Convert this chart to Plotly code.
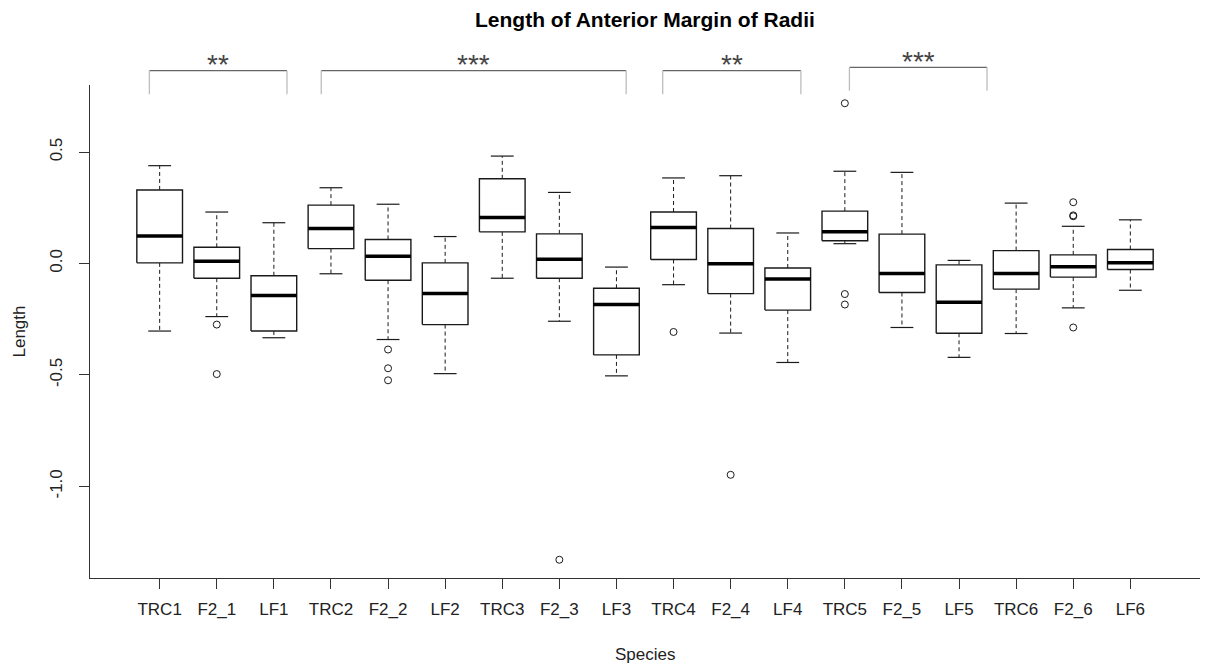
import plotly.graph_objects as go

# ---------------- data ----------------
species = ["TRC1", "F2_1", "LF1", "TRC2", "F2_2", "LF2", "TRC3", "F2_3", "LF3",
           "TRC4", "F2_4", "LF4", "TRC5", "F2_5", "LF5", "TRC6", "F2_6", "LF6"]

lower_whisker = [-0.303, -0.238, -0.333, -0.046, -0.341, -0.494, -0.066, -0.259, -0.504,
                 -0.095, -0.312, -0.444, 0.089, -0.287, -0.421, -0.314, -0.199, -0.120]
q1 = [0.003, -0.066, -0.303, 0.067, -0.075, -0.274, 0.142, -0.066, -0.410,
      0.018, -0.135, -0.209, 0.102, -0.130, -0.313, -0.115, -0.061, -0.027]
median = [0.123, 0.010, -0.144, 0.157, 0.033, -0.135, 0.207, 0.019, -0.184,
          0.162, -0.001, -0.070, 0.142, -0.045, -0.174, -0.045, -0.015, 0.003]
q3 = [0.330, 0.073, -0.055, 0.262, 0.108, 0.003, 0.380, 0.133, -0.111,
      0.231, 0.157, -0.020, 0.235, 0.132, -0.006, 0.058, 0.039, 0.063]
upper_whisker = [0.439, 0.231, 0.183, 0.340, 0.266, 0.121, 0.482, 0.319, -0.016,
                 0.384, 0.394, 0.137, 0.414, 0.409, 0.014, 0.271, 0.167, 0.196]

outlier_species = ["F2_1", "F2_1", "F2_2", "F2_2", "F2_2", "F2_3", "TRC4", "F2_4",
                   "TRC5", "TRC5", "TRC5", "F2_6", "F2_6", "F2_6", "F2_6"]
outlier_values = [-0.274, -0.496, -0.386, -0.470, -0.524, -1.329, -0.307, -0.948,
                  0.719, -0.137, -0.184, 0.275, 0.216, 0.212, -0.287]

y_tick_values = [-1.0, -0.5, 0.0, 0.5]
y_tick_labels = ["-1.0", "-0.5", "0.0", "0.5"]

bracket_labels = ["**", "***", "**", "***"]

# ---------------- geometry / style ----------------
xs = list(range(1, len(species) + 1))
pos = {s: i + 1 for i, s in enumerate(species)}
hw = 0.4   # half box width
sw = 0.2   # half staple width

box_x, box_y, med_x, med_y = [], [], [], []
wh_x, wh_y, st_x, st_y = [], [], [], []
for x, lw, a, m, b, uw in zip(xs, lower_whisker, q1, median, q3, upper_whisker):
    box_x += [x - hw, x + hw, x + hw, x - hw, x - hw, None]
    box_y += [a, a, b, b, a, None]
    med_x += [x - hw, x + hw, None]
    med_y += [m, m, None]
    wh_x += [x, x, None, x, x, None]
    wh_y += [b, uw, None, a, lw, None]
    st_x += [x - sw, x + sw, None, x - sw, x + sw, None]
    st_y += [uw, uw, None, lw, lw, None]

ink = "#1a1a1a"
fig = go.Figure()
fig.add_trace(go.Scatter(x=wh_x, y=wh_y, mode="lines",
                         line=dict(color=ink, width=1, dash="4px,3px"), hoverinfo="skip"))
fig.add_trace(go.Scatter(x=st_x, y=st_y, mode="lines",
                         line=dict(color=ink, width=1.2), hoverinfo="skip"))
fig.add_trace(go.Scatter(x=box_x, y=box_y, mode="lines", fill="toself", fillcolor="white",
                         line=dict(color=ink, width=1.4), hoverinfo="skip"))
fig.add_trace(go.Scatter(x=med_x, y=med_y, mode="lines",
                         line=dict(color="black", width=3.5), hoverinfo="skip"))
fig.add_trace(go.Scatter(x=[pos[s] for s in outlier_species], y=outlier_values, mode="markers",
                         marker=dict(symbol="circle-open", size=7, color=ink, line=dict(width=1)),
                         cliponaxis=False))

# R-like axis extents (4% padding)
n = len(species)
xmin, xmax = 0.5 - 0.04 * n, n + 0.5 + 0.04 * n
all_y = lower_whisker + upper_whisker + outlier_values
lo, hi = min(all_y), max(all_y)
pad = 0.04 * (hi - lo)
ymin, ymax = lo - pad, hi + pad

W, H = 1208, 667
ML, MR, MT, MB = 90, 8, 85, 89
plot_h = H - MT - MB


def px_to_paper_y(py):
    return (H - MB - py) / plot_h


def x_to_paper(x):
    return (x - xmin) / (xmax - xmin)


# significance brackets (drawn outside the plotting region, as in the reference)
bracket_spans = [(0.82, 3.23), (3.83, 9.17), (9.81, 12.23), (13.08, 15.49)]
bracket_top_px = [70.7, 70.7, 70.7, 67.3]
bracket_drop_px = 23.5
shapes = []
annotations = []
for (x0, x1), top, lab in zip(bracket_spans, bracket_top_px, bracket_labels):
    yt = px_to_paper_y(top)
    yb = px_to_paper_y(top + bracket_drop_px)
    shapes.append(dict(type="line", xref="paper", yref="paper", x0=x_to_paper(x0), x1=x_to_paper(x1),
                       y0=yt, y1=yt, line=dict(color="#666666", width=1.2)))
    for xv in (x0, x1):
        shapes.append(dict(type="line", xref="paper", yref="paper", x0=x_to_paper(xv), x1=x_to_paper(xv),
                           y0=yt, y1=yb, line=dict(color="#bdbdbd", width=1.3)))
    annotations.append(dict(text=lab, xref="paper", yref="paper",
                            x=x_to_paper((x0 + x1) / 2), y=px_to_paper_y(top - 6),
                            xanchor="center", yanchor="middle", showarrow=False,
                            font=dict(size=28, color="#444444")))

annotations.append(dict(text="<b>Length of Anterior Margin of Radii</b>", xref="paper", yref="paper",
                        x=0.5, y=px_to_paper_y(19.5), xanchor="center", yanchor="middle",
                        showarrow=False, font=dict(size=21, color="black")))
annotations.append(dict(text="Length", xref="paper", yref="paper", x=(19 - ML) / (W - ML - MR), y=0.5,
                        xanchor="center", yanchor="middle", textangle=-90, showarrow=False,
                        font=dict(size=17, color="#222222")))
annotations.append(dict(text="Species", xref="paper", yref="paper", x=0.5, y=px_to_paper_y(654),
                        xanchor="center", yanchor="middle", showarrow=False,
                        font=dict(size=17, color="#222222")))

fig.update_layout(
    width=W, height=H,
    margin=dict(l=ML, r=MR, t=MT, b=MB),
    paper_bgcolor="white", plot_bgcolor="white",
    showlegend=False,
    font=dict(family="Liberation Sans, Arial, sans-serif", size=17, color="#222222"),
    shapes=shapes, annotations=annotations,
    xaxis=dict(range=[xmin, xmax], tickvals=xs, ticktext=species, ticks="outside", ticklen=10,
               tickcolor="#333333", showline=True, linecolor="#333333", linewidth=1,
               showgrid=False, zeroline=False, ticklabelstandoff=6, fixedrange=True),
    yaxis=dict(range=[ymin, ymax], tickvals=y_tick_values, ticktext=y_tick_labels, ticks="outside",
               ticklen=10, tickcolor="#333333", showline=True, linecolor="#333333", linewidth=1,
               showgrid=False, zeroline=False, tickangle=-90, ticklabelstandoff=10, fixedrange=True),
)

fig.write_html("out.html", config={"displayModeBar": False},
               post_script="document.body.style.margin='0';document.body.style.overflow='hidden';")
